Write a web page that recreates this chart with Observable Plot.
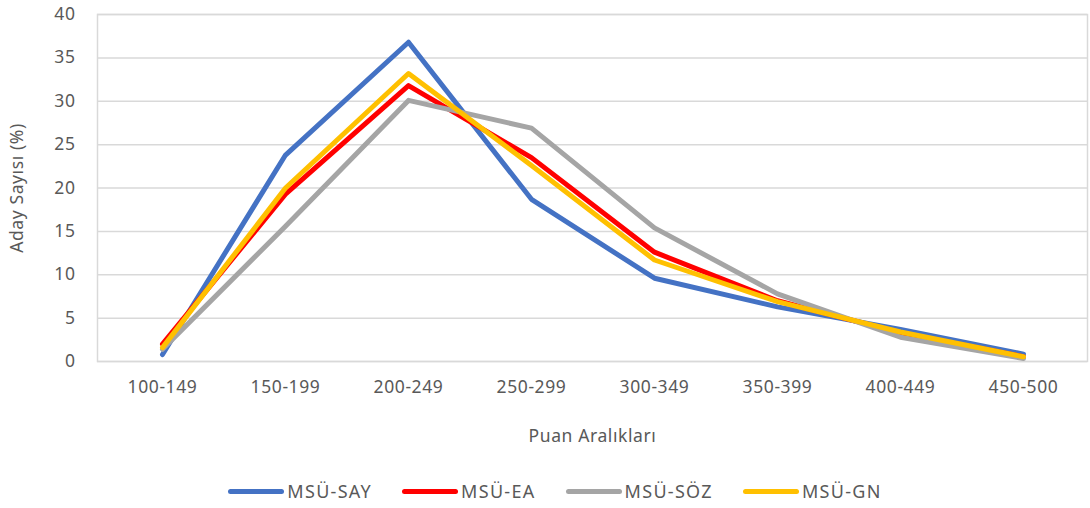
<!DOCTYPE html>
<html>
<head>
<meta charset="utf-8">
<script src="https://cdn.jsdelivr.net/npm/d3@7"></script>
<script src="https://cdn.jsdelivr.net/npm/@observablehq/plot@0.6"></script>
<style>
  html, body { margin: 0; padding: 0; background: #fff; }
  body { width: 1090px; height: 508px; overflow: hidden; font-family: "Noto Sans", sans-serif; }
  #legend { display: flex; justify-content: center; align-items: center; height: 62px; padding-left: 20px; color: #595959; font-size: 18px; letter-spacing: 1.3px; }
  .item { display: flex; align-items: center; margin: 0 15px; }
  .sw { width: 56px; height: 5px; border-radius: 3px; margin-right: 3px; }
</style>
</head>
<body>
<div id="chart"></div>
<div id="legend"></div>
<script>
const categories = ["100-149", "150-199", "200-249", "250-299", "300-349", "350-399", "400-449", "450-500"];
const seriesNames = ["MSÜ-SAY", "MSÜ-EA", "MSÜ-SÖZ", "MSÜ-GN"];
const seriesColors = ["#4472C4", "#FF0000", "#A5A5A5", "#FFC000"];
const say = [0.8, 23.8, 36.8, 18.7, 9.6, 6.3, 3.7, 0.85];
const ea  = [2.0, 19.3, 31.8, 23.5, 12.6, 7.0, 3.3, 0.55];
const soz = [1.4, 15.6, 30.1, 26.9, 15.4, 7.8, 2.8, 0.35];
const gn  = [1.6, 20.0, 33.2, 22.6, 11.7, 6.9, 3.4, 0.55];
const yTicks = [0, 5, 10, 15, 20, 25, 30, 35, 40];

const allValues = [say, ea, soz, gn];
const data = [];
seriesNames.forEach((s, i) => {
  categories.forEach((c, j) => data.push({series: s, cat: c, value: allValues[i][j]}));
});

const chart = Plot.plot({
  width: 1090,
  height: 460,
  marginLeft: 97,
  marginRight: 3,
  marginTop: 14,
  marginBottom: 99,
  style: {fontFamily: "Noto Sans, sans-serif", fontSize: "17.5px", letterSpacing: "0.6px", color: "#595959", background: "#fff"},
  x: {type: "point", domain: categories, padding: 0.5},
  y: {domain: [0, 40]},
  color: {domain: seriesNames, range: seriesColors},
  marks: [
    Plot.gridY(yTicks, {stroke: "#d9d9d9", strokeOpacity: 1, strokeWidth: 1.5}),
    Plot.frame({stroke: "#d9d9d9", strokeWidth: 1.5}),
    Plot.axisY(yTicks, {tickSize: 0, tickPadding: 22, fontSize: 17.5, label: "Aday Sayısı (%)", labelAnchor: "center", labelArrow: "none", labelOffset: 87, fill: "#595959"}),
    Plot.axisX({tickSize: 0, tickPadding: 19, fontSize: 17.5, label: "Puan Aralıkları", labelAnchor: "center", labelArrow: "none", labelOffset: 80, fill: "#595959"}),
    Plot.line(data, {x: "cat", y: "value", z: "series", stroke: "series", strokeWidth: 5, strokeLinecap: "round", strokeLinejoin: "round"})
  ]
});
document.getElementById("chart").appendChild(chart);

const legend = document.getElementById("legend");
seriesNames.forEach((s, i) => {
  const it = document.createElement("div");
  it.className = "item";
  const sw = document.createElement("div");
  sw.className = "sw";
  sw.style.background = seriesColors[i];
  const t = document.createElement("span");
  t.textContent = s;
  it.appendChild(sw);
  it.appendChild(t);
  legend.appendChild(it);
});
</script>
</body>
</html>
